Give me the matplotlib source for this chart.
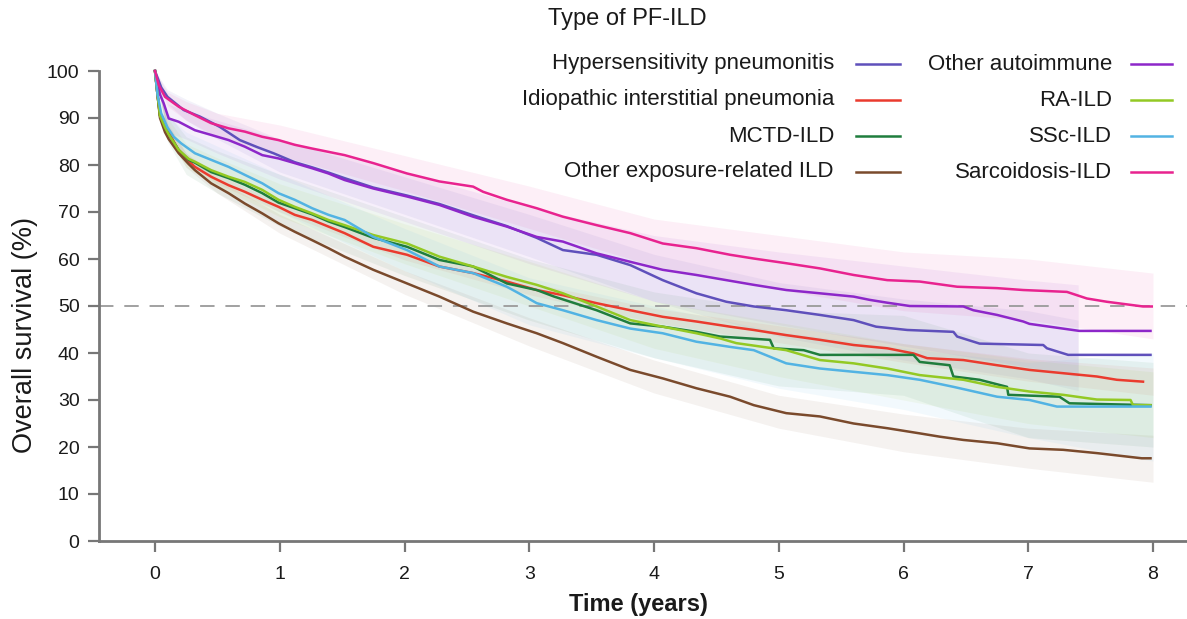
import matplotlib
matplotlib.use("Agg")
import matplotlib.pyplot as plt
from matplotlib.lines import Line2D

plt.rcParams['font.family'] = ['Liberation Sans', 'DejaVu Sans']

W, H = 1187, 619

# ---------------- data ----------------
labels = ["Hypersensitivity pneumonitis", "Idiopathic interstitial pneumonia",
          "MCTD-ILD", "Other exposure-related ILD",
          "Other autoimmune", "RA-ILD", "SSc-ILD", "Sarcoidosis-ILD"]
colors = ["#5f50bb", "#ea3b2e", "#1f7d3d", "#7a4a2c",
          "#8d27c9", "#93c924", "#52b3e3", "#e8238f"]

hp_t = [0, 0.05, 0.1, 0.23, 0.36, 0.52, 0.68, 0.82, 0.95, 1.12, 1.26, 1.39, 1.52, 1.75, 2.02, 2.28,
        2.55, 2.82, 3.06, 3.27, 3.54, 3.81, 4.07, 4.34, 4.58, 4.8, 5.06, 5.33, 5.6, 5.78, 6.03, 6.4,
        6.43, 6.61, 7.12, 7.15, 7.32, 7.98]
hp_s = [100, 96.5, 94.5, 91.7, 90.3, 88.1, 85.3, 83.8, 82.5, 80.6, 79.5, 78.4, 77.2, 75.2, 73.5, 71.7,
        69.3, 67.0, 64.5, 61.9, 60.9, 58.7, 55.5, 52.7, 50.9, 49.9, 49.1, 48.1, 47.0, 45.6, 44.9, 44.5,
        43.5, 42.0, 41.7, 41.0, 39.6, 39.6]

iip_t = [0, 0.02, 0.04, 0.08, 0.11, 0.19, 0.27, 0.32, 0.45, 0.59, 0.72, 0.86, 0.99, 1.12, 1.26, 1.39,
         1.52, 1.75, 2.02, 2.28, 2.55, 2.82, 3.06, 3.27, 3.54, 3.81, 4.07, 4.34, 4.61, 4.8, 5.06, 5.33,
         5.6, 5.87, 6.08, 6.19, 6.48, 6.75, 7.01, 7.28, 7.55, 7.71, 7.92]
iip_s = [100, 95, 90.5, 88, 87, 83.0, 80.8, 79.6, 77.5, 75.7, 74.3, 72.6, 71.1, 69.4, 68.3, 66.9,
         65.5, 62.6, 60.9, 58.4, 57.0, 55.2, 53.4, 52.3, 50.6, 49.1, 47.7, 46.7, 45.6, 44.9, 43.8, 42.8,
         41.7, 41.0, 39.9, 38.9, 38.5, 37.4, 36.4, 35.7, 35.0, 34.3, 33.9]

mctd_t = [0, 0.02, 0.04, 0.08, 0.11, 0.19, 0.27, 0.32, 0.45, 0.59, 0.72, 0.86, 0.99, 1.12, 1.26, 1.39,
          1.52, 1.75, 2.02, 2.28, 2.55, 2.82, 3.06, 3.2, 3.54, 3.81, 4.07, 4.34, 4.53, 4.93, 4.96, 5.2,
          5.33, 6.08, 6.13, 6.37, 6.4, 6.61, 6.83, 6.84, 7.25, 7.33, 7.98]
mctd_s = [100, 95, 90.5, 88, 86.5, 83.2, 81.1, 80.5, 78.5, 77.2, 75.8, 74.0, 72.0, 70.8, 69.5, 68.0,
          66.8, 64.5, 62.6, 59.8, 58.4, 54.8, 53.4, 52.0, 49.1, 46.3, 45.6, 44.5, 43.5, 42.8, 41.0, 40.6,
          39.6, 39.6, 38.1, 37.4, 35.0, 34.3, 32.8, 31.1, 30.7, 29.3, 28.9]

oexp_t = [0, 0.02, 0.04, 0.08, 0.11, 0.19, 0.27, 0.32, 0.45, 0.59, 0.72, 0.86, 0.99, 1.12, 1.26, 1.39,
          1.52, 1.75, 2.02, 2.28, 2.55, 2.82, 3.06, 3.27, 3.54, 3.81, 4.07, 4.34, 4.61, 4.8, 5.06, 5.33,
          5.6, 5.87, 6.13, 6.29, 6.48, 6.75, 7.01, 7.28, 7.55, 7.91, 7.98]
oexp_s = [100, 95, 90, 87, 85.5, 82.5, 80.2, 78.9, 76.1, 74.0, 71.8, 69.7, 67.6, 65.8, 64.0, 62.3,
          60.5, 57.7, 54.8, 52.0, 48.8, 46.3, 44.2, 42.1, 39.2, 36.4, 34.6, 32.5, 30.7, 28.9, 27.2, 26.5,
          25.0, 24.0, 22.9, 22.2, 21.5, 20.8, 19.7, 19.4, 18.7, 17.6, 17.6]

oai_t = [0, 0.04, 0.07, 0.11, 0.19, 0.32, 0.45, 0.59, 0.72, 0.86, 0.99, 1.12, 1.26, 1.39, 1.52, 1.75,
         2.02, 2.28, 2.55, 2.82, 3.06, 3.27, 3.54, 3.81, 4.07, 4.34, 4.58, 4.8, 5.06, 5.33, 5.6, 5.73,
         5.87, 6.05, 6.48, 6.56, 6.75, 6.96, 7.01, 7.41, 7.98]
oai_s = [100, 95, 93.1, 89.9, 89.2, 87.4, 86.4, 85.3, 83.9, 82.1, 81.4, 80.4, 79.3, 78.2, 76.8, 75.0,
         73.3, 71.5, 69.0, 66.9, 64.7, 63.7, 61.2, 59.4, 57.7, 56.6, 55.5, 54.5, 53.4, 52.7, 52.0, 51.3,
         50.7, 50.0, 49.9, 49.1, 48.1, 46.7, 46.2, 44.7, 44.7]

ra_t = [0, 0.02, 0.04, 0.08, 0.11, 0.19, 0.27, 0.32, 0.45, 0.59, 0.72, 0.86, 0.99, 1.12, 1.26, 1.39,
        1.52, 1.75, 2.02, 2.28, 2.55, 2.82, 3.06, 3.27, 3.54, 3.81, 4.07, 4.34, 4.53, 4.66, 5.06, 5.33,
        5.6, 5.87, 6.13, 6.48, 6.75, 7.01, 7.28, 7.55, 7.82, 7.84, 7.98]
ra_s = [100, 95, 90.5, 88, 86.5, 83.2, 81.3, 80.7, 78.9, 77.5, 76.4, 74.7, 72.6, 71.1, 69.7, 68.3,
        67.2, 65.1, 63.3, 60.5, 58.4, 56.2, 54.5, 52.7, 49.9, 47.0, 45.6, 44.2, 43.1, 42.1, 40.6, 38.5,
        37.8, 36.7, 35.3, 34.3, 32.8, 31.8, 31.1, 30.1, 30.0, 28.9, 28.9]

ssc_t = [0, 0.02, 0.05, 0.1, 0.15, 0.21, 0.32, 0.45, 0.59, 0.72, 0.86, 0.99, 1.12, 1.26, 1.39, 1.52,
         1.75, 2.02, 2.28, 2.55, 2.82, 3.0, 3.06, 3.27, 3.54, 3.81, 4.07, 4.34, 4.61, 4.8, 5.06, 5.33,
         5.6, 5.87, 6.13, 6.4, 6.75, 7.01, 7.23, 7.98]
ssc_s = [100, 95, 91, 88, 86, 84.6, 82.5, 81.1, 79.6, 77.9, 76.1, 74.0, 72.6, 70.8, 69.4, 68.3,
         64.7, 61.9, 58.4, 57.0, 54.1, 51.5, 50.6, 49.1, 47.0, 45.2, 44.2, 42.4, 41.3, 40.6, 37.8, 36.7,
         36.0, 35.3, 34.3, 32.8, 30.7, 30.0, 28.6, 28.6]

sar_t = [0, 0.03, 0.08, 0.19, 0.32, 0.45, 0.59, 0.72, 0.86, 0.99, 1.12, 1.26, 1.39, 1.52, 1.75, 2.02,
         2.28, 2.55, 2.63, 2.82, 3.06, 3.27, 3.54, 3.81, 4.07, 4.34, 4.61, 4.8, 5.06, 5.33, 5.6, 5.87,
         6.13, 6.43, 6.75, 6.96, 7.31, 7.47, 7.63, 7.92, 7.99]
sar_s = [100, 97, 94.5, 92.4, 90.6, 88.9, 87.8, 87.1, 86.0, 85.3, 84.3, 83.5, 82.8, 82.1, 80.4, 78.2,
         76.5, 75.4, 74.3, 72.6, 70.8, 69.0, 67.2, 65.5, 63.3, 62.3, 60.9, 60.1, 59.1, 58.0, 56.6, 55.5,
         55.2, 54.1, 53.8, 53.4, 53.0, 51.6, 50.9, 49.9, 49.9]

# confidence bands (read at a few times)
band_t_full = [0, 0.1, 0.25, 0.5, 1, 2, 3, 4, 5, 6, 7, 8]
band_t_short = [0, 0.1, 0.25, 0.5, 1, 2, 3, 4, 5, 6, 7, 7.4]

hp_lo = [100, 93, 89.5, 85.5, 78.5, 69.5, 60.5, 51, 43.5, 38.5, 34.5, 32]
hp_hi = [100, 96, 94, 91, 85.5, 77.5, 69.5, 61, 55, 51.5, 49, 47]
iip_lo = [100, 87, 80.5, 76, 70, 59.8, 52.4, 46.5, 42.2, 38, 34, 31]
iip_hi = [100, 89, 82.5, 78, 72, 62.2, 55, 49.5, 45.8, 42, 38.8, 36.8]
mctd_lo = [100, 85, 78, 74, 67, 56.5, 47, 39, 33, 31, 22, 20]
mctd_hi = [100, 91, 86, 83, 78, 69, 60, 53, 49, 48, 40, 38]
oexp_lo = [100, 86.5, 79.5, 74, 65.5, 52.5, 41.5, 31.5, 24, 19, 15.5, 12.5]
oexp_hi = [100, 88.5, 82.5, 77, 69.5, 57.5, 47.5, 38.5, 31, 27, 24, 22.5]
oai_lo = [100, 87, 85.5, 82.5, 77, 68, 59, 51, 46, 41.5, 37, 35]
oai_hi = [100, 93, 91.5, 89.5, 85.5, 78.5, 71, 65, 61.5, 58.5, 55.5, 54.5]
ra_lo = [100, 86, 79.5, 75.5, 69, 59, 50, 41, 35, 30, 25, 22]
ra_hi = [100, 90, 84.5, 81.5, 76, 67.5, 59.5, 51, 46.5, 42, 38.5, 36]
ssc_lo = [100, 85.5, 81, 77, 70, 57.5, 46, 39, 32.5, 28, 22, 17]
ssc_hi = [100, 90.5, 87, 84, 78, 66.5, 56, 50, 44.5, 41, 38, 40]
sar_lo = [100, 92.5, 89.5, 86, 82, 74.5, 66.5, 58.5, 53.5, 49, 47, 43]
sar_hi = [100, 95.5, 93.5, 91, 88.5, 82, 75.5, 68.5, 65, 61.5, 60, 57]

xticks = [0, 1, 2, 3, 4, 5, 6, 7, 8]
yticks = [0, 10, 20, 30, 40, 50, 60, 70, 80, 90, 100]

series = [
    (hp_t, hp_s, band_t_short, hp_lo, hp_hi),
    (iip_t, iip_s, band_t_full, iip_lo, iip_hi),
    (mctd_t, mctd_s, band_t_full, mctd_lo, mctd_hi),
    (oexp_t, oexp_s, band_t_full, oexp_lo, oexp_hi),
    (oai_t, oai_s, band_t_short, oai_lo, oai_hi),
    (ra_t, ra_s, band_t_full, ra_lo, ra_hi),
    (ssc_t, ssc_s, band_t_full, ssc_lo, ssc_hi),
    (sar_t, sar_s, band_t_full, sar_lo, sar_hi),
]

# ---------------- figure ----------------
fig = plt.figure(figsize=(W / 100, H / 100), dpi=100)
ax_left, ax_right = 99 / W, 1.0
ax_bottom, ax_top = 1 - 541 / H, 1 - 71 / H
ax = fig.add_axes([ax_left, ax_bottom, ax_right - ax_left, ax_top - ax_bottom])

x0px, x1px = 155, 1153
px_per_year = (x1px - x0px) / 8
ax.set_xlim((99 - x0px) / px_per_year, (W - x0px) / px_per_year)
ax.set_ylim(0, 100)

for (t, s, bt, lo, hi), c in zip(series, colors):
    ax.fill_between(bt, lo, hi, color=c, alpha=0.07, lw=0)

ax.axhline(50, color="#9a9a9a", lw=1.3, dashes=(8, 6), zorder=1)

order = [2, 5, 6, 1, 3, 0, 4, 7]
for i in order:
    t, s, bt, lo, hi = series[i]
    ax.plot(t, s, color=colors[i], lw=1.8, zorder=3 + i, clip_on=False)

spine_c = "#777777"
for sp in ["top", "right"]:
    ax.spines[sp].set_visible(False)
for sp in ["left", "bottom"]:
    ax.spines[sp].set_color(spine_c)
    ax.spines[sp].set_linewidth(2)

ax.set_xticks(xticks)
ax.set_yticks(yticks)
ax.tick_params(axis="both", colors=spine_c, width=1.6, length=8, labelsize=14,
               labelcolor="#1a1a1a")
ax.tick_params(axis="x", pad=10)
ax.tick_params(axis="y", pad=6)

fig.text(638 / W, 1 - 605 / H, "Time (years)", fontsize=17, fontweight="bold",
         color="#1a1a1a", ha="center", va="center")
fig.text(25 / W, 1 - 335 / H, "Overall survival (%)", fontsize=19.5, color="#1a1a1a",
         ha="center", va="center", rotation=90)

# ---------------- legend ----------------
fig.text(548 / W, 1 - 19 / H, "Type of PF-ILD", fontsize=17, color="#1a1a1a",
         ha="left", va="center")
rows_y = [64, 100, 136, 172]
col_text_right = [834, 1112]
col_line = [(856, 900), (1131, 1172)]
for k, lab in enumerate(labels):
    col = k // 4
    row = k % 4
    yf = 1 - rows_y[row] / H
    fig.text(col_text_right[col] / W, yf, lab, fontsize=16, color="#1a1a1a",
             ha="right", va="center")
    xa, xb = col_line[col]
    fig.add_artist(Line2D([xa / W, xb / W], [yf, yf], transform=fig.transFigure,
                          color=colors[k], lw=1.8))

fig.savefig("out.png", dpi=100, facecolor="white")
